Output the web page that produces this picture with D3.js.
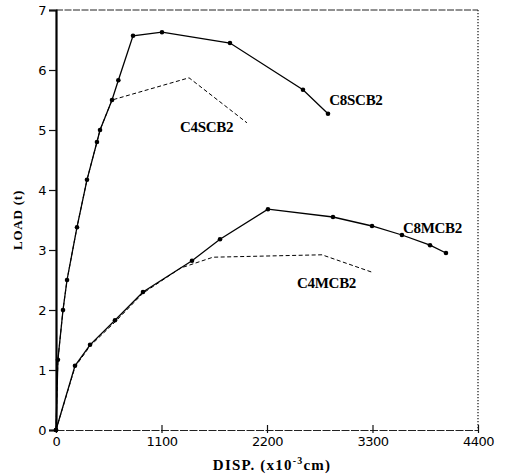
<!DOCTYPE html>
<html>
<head>
<meta charset="utf-8">
<script src="https://cdn.jsdelivr.net/npm/d3@7"></script>
<style>
  body { margin: 0; background: #fff; }
  svg { display: block; }
</style>
</head>
<body>
<svg id="chart" width="507" height="475"></svg>
<script>
// values (disp in 1e-3 cm, load in t)
var c8scb2Disp = [0, 20, 73, 115, 219, 323, 427, 459, 584, 650, 803, 1105, 1814, 2575, 2836];
var c8scb2Load = [0, 1.17, 2.0, 2.5, 3.38, 4.17, 4.8, 5.0, 5.5, 5.83, 6.57, 6.63, 6.45, 5.67, 5.27];

var c4scb2Disp = [0, 20, 73, 115, 219, 323, 427, 459, 584, 1387, 1991];
var c4scb2Load = [0, 1.17, 2.0, 2.5, 3.38, 4.17, 4.8, 5.0, 5.5, 5.87, 5.12];

var c8mcb2Disp = [0, 198, 355, 615, 907, 1418, 1710, 2210, 2888, 3295, 3607, 3900, 4066];
var c8mcb2Load = [0, 1.07, 1.42, 1.83, 2.3, 2.82, 3.18, 3.68, 3.55, 3.4, 3.25, 3.08, 2.95];

var c4mcb2Disp = [0, 198, 355, 615, 907, 1300, 1637, 2773, 3295];
var c4mcb2Load = [0, 1.05, 1.4, 1.8, 2.28, 2.7, 2.88, 2.92, 2.63];

var xTicks = [0, 1100, 2200, 3300, 4400];
var yTicks = [0, 1, 2, 3, 4, 5, 6, 7];

var svg = d3.select("#chart");
var plotLeft = 56, plotRight = 478, plotTop = 10, plotBottom = 430;

var x = d3.scaleLinear().domain([0, 4400]).range([plotLeft, plotRight]);
var y = d3.scaleLinear().domain([0, 7]).range([plotBottom, plotTop]);

var zip = function (xs, ys) {
    return xs.map(function (v, i) { return [v, ys[i]]; });
};

// frame: top dashed, right dotted, as on the scan
svg.append("line")
    .attr("x1", plotLeft).attr("x2", plotRight).attr("y1", plotTop).attr("y2", plotTop)
    .attr("stroke", "#222").attr("stroke-width", 1).attr("stroke-dasharray", "7,1.5");
svg.append("line")
    .attr("x1", plotRight).attr("x2", plotRight).attr("y1", plotTop).attr("y2", plotBottom)
    .attr("stroke", "#222").attr("stroke-width", 1.3).attr("stroke-dasharray", "1.2,1.8");

var xAxis = svg.append("g")
    .attr("transform", "translate(0," + plotBottom + ")")
    .call(d3.axisBottom(x).tickValues(xTicks).tickSize(0).tickPadding(7).tickFormat(d3.format("d")));
xAxis.select(".domain").attr("stroke", "#222").attr("stroke-width", 1).attr("stroke-dasharray", "8,1.5");
xAxis.selectAll(".tick").append("line")
    .attr("y1", -5).attr("y2", 3).attr("stroke", "#111").attr("stroke-width", 1.2);

var yAxis = svg.append("g")
    .attr("transform", "translate(" + plotLeft + ",0)")
    .call(d3.axisLeft(y).tickValues(yTicks).tickSize(7).tickPadding(3).tickFormat(d3.format("d")));
yAxis.select(".domain").attr("stroke", "#000").attr("stroke-width", 2.2);
yAxis.selectAll(".tick line").attr("stroke", "#111").attr("stroke-width", 1.2);

svg.selectAll(".tick text")
    .attr("font-family", "DejaVu Sans, sans-serif")
    .attr("font-size", 13)
    .attr("letter-spacing", -0.5)
    .attr("fill", "#000");

var line = d3.line()
    .x(function (d) { return x(d[0]); })
    .y(function (d) { return y(d[1]); });

var drawSeries = function (pts, dashed, dots) {
    svg.append("path")
        .datum(pts)
        .attr("d", line)
        .attr("fill", "none")
        .attr("stroke", "#000")
        .attr("stroke-width", dashed ? 1 : 1.3)
        .attr("stroke-dasharray", dashed ? "4,2.5" : null);
    if (dots) {
        svg.append("g").selectAll("circle")
            .data(pts)
            .enter().append("circle")
            .attr("cx", function (d) { return x(d[0]); })
            .attr("cy", function (d) { return y(d[1]); })
            .attr("r", 2.3)
            .attr("fill", "#000");
    }
};

drawSeries(zip(c4scb2Disp, c4scb2Load), true, false);
drawSeries(zip(c4mcb2Disp, c4mcb2Load), true, false);
drawSeries(zip(c8scb2Disp, c8scb2Load), false, true);
drawSeries(zip(c8mcb2Disp, c8mcb2Load), false, true);

var labelFont = "Liberation Serif, Times New Roman, serif";

var seriesLabels = [
    {text: "C8SCB2", d: 2850, l: 5.42},
    {text: "C4SCB2", d: 1293, l: 4.97},
    {text: "C8MCB2", d: 3618, l: 3.28},
    {text: "C4MCB2", d: 2513, l: 2.37}
];
svg.selectAll(".slabel")
    .data(seriesLabels)
    .enter().append("text")
    .attr("x", function (d) { return x(d.d); })
    .attr("y", function (d) { return y(d.l); })
    .attr("font-family", labelFont)
    .attr("font-weight", "bold")
    .attr("font-size", 15)
    .attr("letter-spacing", -0.3)
    .text(function (d) { return d.text; });

// axis titles
var xt = svg.append("text")
    .attr("x", 272).attr("y", 470)
    .attr("text-anchor", "middle")
    .attr("font-family", labelFont)
    .attr("font-weight", "bold")
    .attr("font-size", 15)
    .attr("letter-spacing", 1.2);
xt.append("tspan").text("DISP. (x10");
xt.append("tspan").attr("font-size", 10).attr("dy", -6).text("-3");
xt.append("tspan").attr("dy", 6).text("cm)");

svg.append("text")
    .attr("transform", "translate(22,220) rotate(-90)")
    .attr("text-anchor", "middle")
    .attr("font-family", labelFont)
    .attr("font-weight", "bold")
    .attr("font-size", 13)
    .attr("letter-spacing", 0.8)
    .text("LOAD (t)");
</script>
</body>
</html>
